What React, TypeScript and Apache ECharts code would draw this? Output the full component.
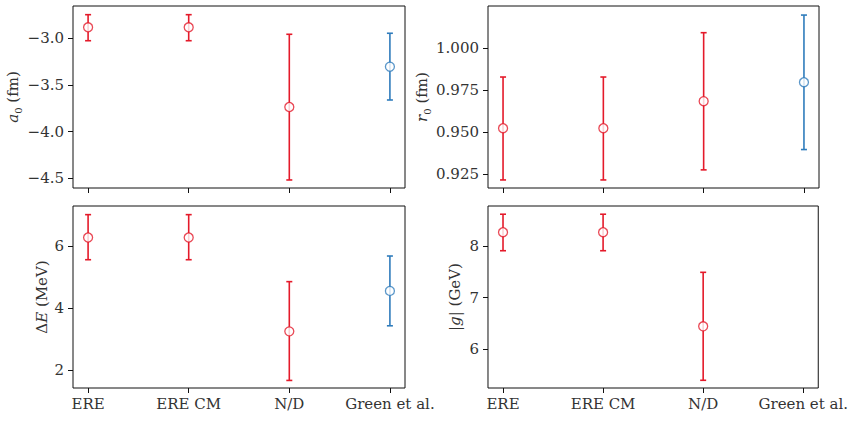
import React, { useEffect, useRef } from "react";
import * as echarts from "echarts";

const categories = ["ERE", "ERE CM", "N/D", "Green et al."];
const pointColors = ["#e41a2a", "#e41a2a", "#e41a2a", "#2f7cbc"];

const a0Val = [-2.882, -2.882, -3.736, -3.304];
const a0Lo = [-3.026, -3.026, -4.518, -3.661];
const a0Hi = [-2.747, -2.747, -2.957, -2.946];

const r0Val = [0.9524, 0.9524, 0.9685, 0.9798];
const r0Lo = [0.9216, 0.9216, 0.9276, 0.9397];
const r0Hi = [0.9829, 0.9829, 1.0093, 1.0198];

const dEVal = [6.29, 6.29, 3.25, 4.56];
const dELo = [5.57, 5.57, 1.66, 3.43];
const dEHi = [7.03, 7.03, 4.86, 5.69];

const gVal = [8.27, 8.27, 6.44];
const gLo = [7.91, 7.91, 5.39];
const gHi = [8.62, 8.62, 7.49];

const a0Ticks = [-4.5, -4.0, -3.5, -3.0];
const r0Ticks = [0.925, 0.95, 0.975, 1.0];
const dETicks = [2, 4, 6];
const gTicks = [6, 7, 8];

const FONT = "DejaVu Serif";
const FS = 15;
const TEXT = "#333";

export default function App() {
  const ref = useRef<HTMLDivElement>(null);
  useEffect(() => {
    if (!ref.current) return;
    const chart = echarts.init(ref.current, null, { renderer: "svg" });

    const grids = [
      { left: 73, top: 6, width: 332, height: 182 },
      { left: 488, top: 6, width: 331, height: 182 },
      { left: 73, top: 206, width: 332, height: 182 },
      { left: 488, top: 206, width: 331, height: 182 },
    ].map((g) => ({
      ...g,
      show: true,
      borderColor: "#111",
      borderWidth: 1,
      backgroundColor: "transparent",
    }));

    const xAxes = [0, 1, 2, 3].map((i) => ({
      type: "value",
      gridIndex: i,
      min: -0.15,
      max: 3.15,
      axisLine: { show: false, onZero: false },
      splitLine: { show: false },
      axisTick: {
        show: true,
        length: 5,
        inside: false,
        customValues: [0, 1, 2, 3],
        lineStyle: { color: "#111", width: 1 },
      },
      axisLabel: {
        show: i >= 2,
        customValues: [0, 1, 2, 3],
        formatter: (v: number) => categories[Math.round(v)] ?? "",
        fontFamily: FONT,
        fontSize: FS,
        color: TEXT,
        margin: 8,
      },
    }));

    const rich = {
      n: { fontFamily: FONT, fontSize: FS, color: TEXT, lineHeight: 20 },
      it: { fontFamily: FONT, fontSize: FS, color: TEXT, fontStyle: "italic", lineHeight: 20 },
      sub: { fontFamily: FONT, fontSize: 10, color: TEXT, lineHeight: 11, verticalAlign: "bottom" },
    };

    const mkY = (
      i: number,
      min: number,
      max: number,
      ticks: number[],
      dec: number,
      name: string,
      gap: number
    ) => ({
      type: "value",
      gridIndex: i,
      min,
      max,
      name,
      nameLocation: "middle",
      nameRotate: 90,
      nameGap: gap,
      nameTextStyle: { rich, fontFamily: FONT, fontSize: FS, color: TEXT },
      axisLine: { show: false, onZero: false },
      splitLine: { show: false },
      axisTick: {
        show: true,
        length: 5,
        inside: false,
        customValues: ticks,
        lineStyle: { color: "#111", width: 1 },
      },
      axisLabel: {
        customValues: ticks,
        formatter: (v: number) => v.toFixed(dec).replace("-", "\u2212"),
        fontFamily: FONT,
        fontSize: FS,
        color: TEXT,
        margin: 9,
      },
    });

    const yAxes = [
      mkY(0, -4.604, -2.654, a0Ticks, 1, "{it|a}{sub|0}{n| (fm)}", 50),
      mkY(1, 0.9168, 1.0252, r0Ticks, 3, "{it|r}{sub|0}{n| (fm)}", 54),
      mkY(2, 1.415, 7.31, dETicks, 0, "{n|\u0394}{it|E}{n| (MeV)}", 21),
      mkY(3, 5.24, 8.78, gTicks, 0, "{n||}{it|g}{n|| (GeV)}", 23),
    ];

    const panels = [
      [a0Val, a0Lo, a0Hi],
      [r0Val, r0Lo, r0Hi],
      [dEVal, dELo, dEHi],
      [gVal, gLo, gHi],
    ];

    const series: any[] = [];
    panels.forEach(([vals, lo, hi], i) => {
      const data = vals.map((v, k) => ({
        value: [k, v, lo[k], hi[k]],
        itemStyle: { color: pointColors[k] },
      }));
      series.push({
        type: "custom",
        xAxisIndex: i,
        yAxisIndex: i,
        data,
        z: 2,
        renderItem: (params: any, api: any) => {
          const x = api.value(0);
          const pLo = api.coord([x, api.value(2)]);
          const pHi = api.coord([x, api.value(3)]);
          const color = pointColors[params.dataIndex];
          const style = { stroke: color, lineWidth: 1.6 };
          const cw = 3;
          return {
            type: "group",
            children: [
              { type: "line", shape: { x1: pLo[0], y1: pLo[1], x2: pHi[0], y2: pHi[1] }, style },
              { type: "line", shape: { x1: pLo[0] - cw, y1: pLo[1], x2: pLo[0] + cw, y2: pLo[1] }, style },
              { type: "line", shape: { x1: pHi[0] - cw, y1: pHi[1], x2: pHi[0] + cw, y2: pHi[1] }, style },
            ],
          };
        },
      });
      series.push({
        type: "scatter",
        xAxisIndex: i,
        yAxisIndex: i,
        z: 3,
        symbol: "circle",
        symbolSize: 9,
        data: vals.map((v, k) => ({
          value: [k, v],
          itemStyle: { color: "#fff", borderColor: pointColors[k], borderWidth: 1.3 },
        })),
      });
    });

    chart.setOption({
      animation: false,
      backgroundColor: "#fff",
      grid: grids,
      xAxis: xAxes,
      yAxis: yAxes,
      series,
    });
    return () => chart.dispose();
  }, []);

  return (
    <div
      ref={ref}
      style={{ position: "absolute", left: 0, top: 0, width: 851, height: 422 }}
    />
  );
}
